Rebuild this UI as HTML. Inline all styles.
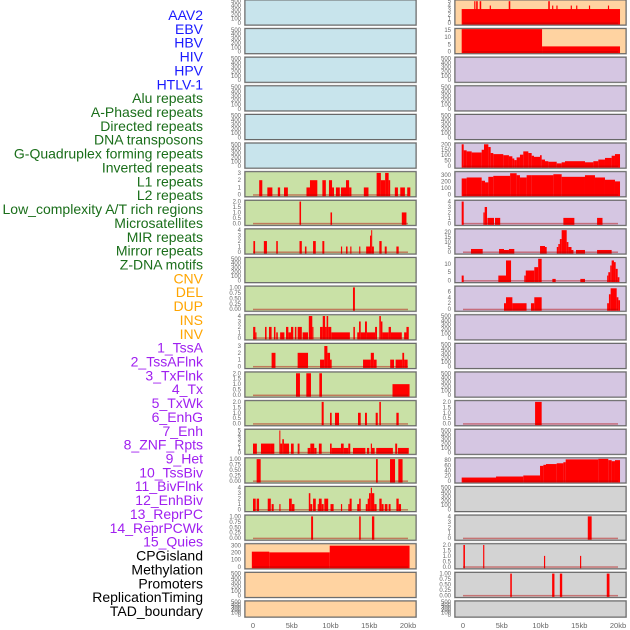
<!DOCTYPE html>
<html><head><meta charset="utf-8"><style>
html,body{margin:0;padding:0;background:#fff;width:630px;height:630px;overflow:hidden}
svg{display:block}
.lab{font-family:"Liberation Sans",sans-serif;font-size:14px}
.tk{font-family:"Liberation Sans",sans-serif;font-size:6px;fill:#666}
.xt{font-family:"Liberation Sans",sans-serif;font-size:7.5px;fill:#666}
</style></head><body>
<svg id="chart" width="630" height="630" viewBox="0 0 630 630"></svg>
<script>
const labels = ["AAV2","EBV","HBV","HIV","HPV","HTLV-1","Alu repeats","A-Phased repeats","Directed repeats","DNA transposons","G-Quadruplex forming repeats","Inverted repeats","L1 repeats","L2 repeats","Low_complexity A/T rich regions","Microsatellites","MIR repeats","Mirror repeats","Z-DNA motifs","CNV","DEL","DUP","INS","INV","1_TssA","2_TssAFlnk","3_TxFlnk","4_Tx","5_TxWk","6_EnhG","7_Enh","8_ZNF_Rpts","9_Het","10_TssBiv","11_BivFlnk","12_EnhBiv","13_ReprPC","14_ReprPCWk","15_Quies","CPGisland","Methylation","Promoters","ReplicationTiming","TAD_boundary"];
const xTicks = [0,5,10,15,20];
const xTickLabels = ["0","5kb","10kb","15kb","20kb"];
// segments: [startKb, endKb, value]
const bars6 = [[0.8,1.2,2],[1.85,2.5,1],[3.2,3.5,1],[4.0,4.5,1],[6.9,7.35,1],[7.35,8.3,2],[8.95,9.4,2],[9.8,10.2,2],[10.2,10.45,1],[10.7,11.2,1],[11.35,12.0,1],[12.0,12.4,2],[12.4,12.7,1],[14.3,14.9,1],[15.95,16.5,3],[16.5,17.05,2],[17.05,17.5,3],[17.5,17.7,2],[18.3,18.7,1],[19.0,19.6,1],[19.9,20.3,1]];
const bars7 = [[6.0,6.2,2],[10.0,10.2,1],[19.2,19.8,1]];
const bars8 = [[0.05,0.27,2],[1.4,1.8,2],[3.0,3.2,2],[6.0,6.3,2],[6.7,6.9,1],[7.75,8.1,2],[8.95,9.2,2],[11.35,11.5,1],[12.0,12.2,1],[12.55,12.7,1],[13.7,13.85,1],[14.6,14.9,1],[14.9,15.1,1],[15.1,15.25,3],[15.25,15.35,4],[15.35,15.6,1],[16.3,16.6,2],[17.0,17.25,1],[18.5,18.8,1]];
const bars10 = [[12.9,13.15,1]];
const bars11 = [[0.02,0.3,2],[0.3,0.45,1],[1.55,1.75,2],[2.06,2.4,2],[2.7,2.9,2],[3.0,3.2,1],[3.5,4.05,1],[4.26,4.56,2],[4.56,4.9,1],[4.9,5.2,2],[5.4,5.6,2],[5.76,6.3,2],[6.4,7.1,1],[7.2,7.65,4],[7.65,7.8,2],[8.65,9.0,2],[9.0,9.3,4],[9.3,9.5,2],[9.5,9.7,4],[9.7,10.1,2],[10.1,12.5,1],[12.95,13.15,2],[13.45,13.68,1],[13.68,13.9,3],[13.9,14.45,1],[14.45,14.7,3],[14.7,15.75,1],[15.75,16.0,2],[16.3,16.5,4],[16.5,16.7,3],[16.7,17.5,1],[17.5,17.8,2],[17.8,19.2,1],[19.5,19.8,1],[19.8,20.1,2]];
const bars12 = [[2.4,2.9,2],[5.76,7.1,2],[8.65,9.2,1],[9.2,9.6,3],[9.6,9.94,2],[9.94,10.15,1],[14.2,15.2,1],[15.2,15.6,2],[15.6,15.95,1],[17.7,18.2,1],[18.4,19.27,1],[19.27,19.5,2],[19.5,19.95,1]];
const bars13 = [[5.55,6.06,2],[6.88,7.48,2],[8.56,8.9,2],[18.0,20.2,1]];
const bars14 = [[8.86,9.12,2],[9.94,10.15,1],[10.58,11.1,1],[13.55,13.9,1],[14.45,14.7,1],[15.83,16.1,1],[16.3,16.5,2],[18.5,18.8,1]];
const bars15 = [[0.0,0.5,2],[1.03,2.2,2],[2.2,2.75,2],[3.4,3.5,5],[3.5,3.78,2],[3.78,3.99,3],[3.99,4.65,2],[4.9,5.25,2],[5.76,6.0,2],[7.05,7.4,1],[7.4,7.9,2],[7.9,8.2,1],[8.5,8.86,2],[9.94,10.15,2],[10.15,11.35,1],[11.35,11.7,2],[11.7,12.3,1],[12.3,12.55,2],[12.9,14.5,1],[14.7,15.0,1],[15.2,15.35,2],[15.35,15.7,1],[15.9,18.05,1],[18.35,18.6,2],[18.7,20.1,1]];
const bars16 = [[0.47,0.99,1],[15.87,16.1,1],[17.68,18.33,1],[18.75,19.3,1]];
const bars17 = [[0.0,0.35,2],[0.47,0.78,2],[1.9,2.3,2],[2.4,2.67,1],[3.4,3.55,1],[4.65,5.0,2],[5.0,5.35,1],[7.2,7.4,3],[7.4,7.65,1],[7.75,8.1,2],[8.35,8.5,1],[8.5,8.86,2],[8.86,9.12,1],[9.2,9.7,2],[10.0,10.4,1],[11.35,11.5,1],[12.3,12.47,1],[12.47,12.73,2],[13.45,13.7,1],[13.7,13.9,2],[14.55,14.8,1],[14.8,14.97,2],[14.97,15.2,3],[15.2,15.35,4],[15.35,15.65,3],[15.65,15.95,1],[16.3,16.6,2],[16.6,16.85,1],[17.0,17.35,1],[17.5,17.75,1],[18.5,18.8,2],[18.8,19.1,1]];
const bars18 = [[7.5,7.75,1],[13.7,13.9,1],[15.35,15.65,1]];
const bars19 = [[-0.15,2.1,215],[2.1,9.9,205],[9.9,20.2,300]];
const bars22 = [[-0.17,20.26,3.2],[1.45,1.6,5],[1.7,1.9,5],[2.15,2.35,5],[3.45,3.6,4],[5.9,6.1,5],[11.0,11.2,5],[11.5,11.65,4],[12.05,12.2,4],[13.9,14.05,4],[14.6,14.75,4],[16.25,16.4,4],[18.7,18.85,4]];
const bars23 = [[-0.17,10.2,15.5],[10.2,20.26,3.6]];
const bars27 = [[-0.17,0.09,200],[0.09,0.47,145],[0.47,1.12,135],[1.12,2.41,125],[2.41,2.71,150],[2.71,3.27,200],[3.27,3.57,175],[3.57,3.91,120],[3.91,5.2,110],[5.2,5.93,100],[5.93,6.37,90],[6.37,6.62,70],[6.62,6.92,55],[6.92,7.35,80],[7.35,7.78,105],[7.78,8.43,135],[8.43,8.86,120],[8.86,9.16,95],[9.16,9.94,85],[9.94,10.15,100],[10.15,10.58,60],[10.58,11.01,45],[11.01,12.09,40],[12.09,12.73,25],[12.73,13.16,35],[13.16,15.74,45],[15.74,16.82,35],[16.82,17.46,45],[17.46,18.32,60],[18.32,19.18,75],[19.18,19.61,95],[19.61,20.26,110]];
const bars28 = [[-0.17,0.47,250],[0.47,2.41,265],[2.41,2.84,215],[2.84,3.27,190],[3.27,3.91,275],[3.91,6.08,290],[6.08,6.92,330],[6.92,7.35,300],[7.35,8.21,265],[8.21,8.86,300],[8.86,11.66,300],[11.66,12.73,315],[12.73,15.74,275],[15.74,17.03,300],[17.03,18.32,265],[18.32,19.61,230],[19.61,20.26,205]];
const bars29 = [[-0.17,0.09,4],[2.63,2.8,2],[2.8,3.1,3],[3.15,4.0,1],[4.13,4.8,1],[12.95,14.37,1],[17.3,18.0,1]];
const bars30 = [[1.03,2.54,3],[4.65,5.29,3],[5.29,5.93,2],[5.93,6.62,3],[9.94,10.58,6],[10.58,10.8,5],[12.1,12.3,5],[12.3,12.5,8],[12.5,12.73,13],[12.73,13.38,22],[13.38,13.6,10],[13.6,14.0,5],[14.0,14.25,2],[14.58,15.74,2],[17.3,19.18,2]];
const bars31 = [[-0.17,0.09,3],[4.56,5.55,3],[5.55,6.2,12],[7.91,8.1,3],[8.1,9.2,6],[9.2,9.7,8],[9.7,10.15,13],[11.53,11.96,1],[15.14,15.74,1],[18.6,18.75,3],[18.75,19.0,5],[19.0,19.18,9],[19.18,19.48,12],[19.48,19.7,11],[19.7,19.96,7],[19.96,20.18,2]];
const bars32 = [[5.29,5.55,2],[5.55,6.37,4],[6.37,8.2,2],[8.77,9.2,2],[9.2,10.15,4],[18.6,18.83,2],[18.83,19.05,5],[19.05,19.83,7],[19.83,20.05,4],[20.05,20.26,3]];
const bars36 = [[9.3,10.15,2]];
const bars38 = [[-0.17,4.26,13],[4.26,7.78,17],[7.78,9.94,21],[9.94,10.37,58],[10.37,10.71,62],[10.71,12.09,65],[12.09,12.95,68],[12.95,13.25,72],[13.25,17.46,83],[17.46,18.75,85],[18.75,19.18,80],[19.18,19.61,76],[19.61,20.26,80]];
const bars40 = [[16.1,16.6,4]];
const bars41 = [[0.05,0.25,2],[2.6,2.75,2],[10.45,10.6,1],[15.1,15.25,1]];
const bars42 = [[6.1,6.3,1],[11.5,11.8,1],[12.5,12.8,1],[18.55,18.9,1]];

const T500=[0,100,200,300,400,500];
const panelBars = {6:bars6,7:bars7,8:bars8,10:bars10,11:bars11,12:bars12,13:bars13,14:bars14,15:bars15,16:bars16,17:bars17,18:bars18,19:bars19,22:bars22,23:bars23,27:bars27,28:bars28,29:bars29,30:bars30,31:bars31,32:bars32,36:bars36,38:bars38,40:bars40,41:bars41,42:bars42};
const panelTicks = {6:[0,1,2,3],7:[0,0.5,1,1.5,2],8:[0,1,2,3,4],10:[0,0.25,0.5,0.75,1],11:[0,1,2,3,4],12:[0,1,2,3],13:[0,0.5,1,1.5,2],14:[0,0.5,1,1.5,2],15:[0,1,2,3,4,5],16:[0,0.25,0.5,0.75,1],17:[0,1,2,3,4],18:[0,0.25,0.5,0.75,1],19:[0,100,200,300],22:[0,1,2,3,4,5],23:[0,5,10,15],27:[0,50,100,150,200],28:[0,100,200,300],29:[0,1,2,3,4],30:[0,5,10,15,20],31:[0,5,10],32:[0,2,4,6],36:[0,0.5,1,1.5,2],38:[0,20,40,60,80],40:[0,1,2,3,4],41:[0,0.5,1,1.5,2],42:[0,0.25,0.5,0.75,1]};
const panelMax = {12:3.2,30:22,31:13,32:7.3,38:84,19:310,28:335};
const fmt2 = {7:1,10:2,13:1,14:1,16:2,18:2,36:1,41:1,42:2};

const NS="http://www.w3.org/2000/svg";
const svg=document.getElementById('chart');
function mk(t,a,p){const e=document.createElementNS(NS,t);for(const k in a)e.setAttribute(k,a[k]);(p||svg).appendChild(e);return e;}
function panelColor(i){
  if(i<6)return"#c8e4ec"; if(i<19)return"#c9e1a6"; if(i<24)return"#ffd3a1"; if(i<39)return"#d5c6e2"; return"#d3d3d3";
}
function labColor(i){
  if(i<6)return"#1a1aff"; if(i<19)return"#1a6e1a"; if(i<24)return"#ffa500"; if(i<39)return"#a020f0"; return"#000";
}
labels.forEach((s,i)=>{
  const t=mk('text',{x:203,y:20+i*13.86,'text-anchor':'end',class:'lab',fill:labColor(i)});
  t.textContent=s;
  
  
});
const rowTop=r=>r*28.62;
for(let i=0;i<44;i++){
  const col=i<22?0:1, r=i%22;
  const x0=col?455:245, w=171;
  const y0=rowTop(r), h=r===21?16:25;
  const g=mk('g',{});
  
  
  mk('rect',{x:x0-0.5,y:y0-0.5,width:w+1,height:h+1,fill:'none',stroke:'#bbb','stroke-width':1},g);
  mk('rect',{x:x0,y:y0,width:w,height:h,fill:panelColor(i),stroke:'#666','stroke-width':1},g);
  const ticks=panelTicks[i]||T500;
  const ymax=panelMax[i]||ticks[ticks.length-1];
  const yb=y0+h-2, yt=y0+1.2;
  const ys=v=>yb-(v/ymax)*(yb-yt);
  const xs=k=>x0+8+k*7.75;
  const bars=panelBars[i];
  if(bars){
    bars.forEach(b=>{
      const top=Math.max(ys(b[2]),y0+0.5);
      const rr=mk('rect',{x:xs(b[0]),y:top,width:Math.max(xs(b[1])-xs(b[0]),1),height:yb-top+1.5,fill:'#ff0000'},g);
      
      
    });
    mk('rect',{x:xs(0),y:yb-0.5,width:xs(20)-xs(0),height:1.5,fill:'rgba(180,0,0,0.45)'},g);
  }
  ticks.forEach(v=>{
    const t=mk('text',{x:x0-4,y:ys(v)+2,'text-anchor':'end',class:'tk'},g);
    t.textContent=fmt2[i]?v.toFixed(fmt2[i]):String(v);
    
    
  });
}
[253,463].forEach(base=>{
  xTicks.forEach((k,j)=>{
    const t=mk('text',{x:base+k*7.75,y:628,'text-anchor':'middle',class:'xt'});
    t.textContent=xTickLabels[j];
    
    
  });
});
</script>
</body></html>
